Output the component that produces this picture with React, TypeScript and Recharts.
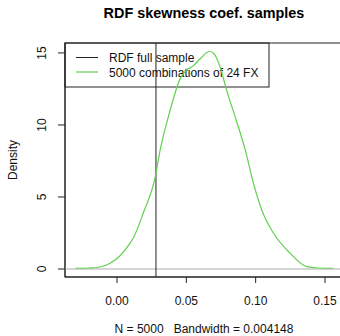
import { ComposedChart, Line, XAxis, YAxis, ReferenceLine } from 'recharts';

const densityX = [
  -0.03, -0.02, -0.013, -0.005, 0.002, 0.008, 0.012, 0.019, 0.0274, 0.031, 0.038, 0.0455, 0.05,
  0.055, 0.06, 0.0666, 0.0695, 0.0743, 0.0791, 0.0851, 0.0924, 0.0983, 0.1044, 0.1128, 0.1248,
  0.1368, 0.145, 0.156,
];
const densityY = [
  0.05, 0.07, 0.12, 0.4, 0.9, 1.6, 2.2, 3.9, 6.3, 8.2, 10.9, 13.2, 13.8, 14.1, 14.6, 15.1, 15.0,
  14.05, 12.4, 10.6, 8.3, 6.0, 4.1, 2.5, 1.1, 0.16, 0.07, 0.05,
];
const fullSample = 0.0281;
const xTicks = [0, 0.05, 0.1, 0.15];
const xTickLabels = ['0.00', '0.05', '0.10', '0.15'];
const yTicks = [0, 5, 10, 15];

const data = densityX.map((x, i) => ({ x, d: densityY[i] }));

const FONT = '"Liberation Sans", Arial, Helvetica, sans-serif';
const GREEN = '#61D04F';

const XTick = (props: any) => {
  const i = xTicks.indexOf(props.payload.value);
  return (
    <text x={props.x} y={305} textAnchor="middle" fontSize={12} fontFamily={FONT} fill="#111">
      {xTickLabels[i] ?? props.payload.value}
    </text>
  );
};

const YTick = (props: any) => (
  <text
    x={46.5}
    y={props.y}
    transform={`rotate(-90 46.5 ${props.y})`}
    textAnchor="middle"
    fontSize={12}
    fontFamily={FONT}
    fill="#111"
  >
    {props.payload.value}
  </text>
);

export default function App() {
  return (
    <div style={{ position: 'absolute', left: 0, top: 0, width: 340, height: 336, overflow: 'hidden', background: '#fff' }}>
      <ComposedChart width={343} height={336} data={data} margin={{ top: 43, right: 0, left: 0, bottom: 0 }}>
        <XAxis
          dataKey="x"
          type="number"
          domain={[-0.0375, 0.163]}
          ticks={xTicks}
          tick={XTick}
          tickSize={6}
          height={59}
          axisLine={{ stroke: '#222' }}
          tickLine={{ stroke: '#222' }}
          allowDataOverflow
        />
        <YAxis
          type="number"
          domain={[-0.556, 15.69]}
          ticks={yTicks}
          tick={YTick}
          tickSize={7}
          width={65}
          axisLine={{ stroke: '#222' }}
          tickLine={{ stroke: '#222' }}
          allowDataOverflow
        />
        <ReferenceLine y={0} stroke="#d6d6d6" strokeWidth={2} />
        <ReferenceLine x={fullSample} stroke="#222" strokeWidth={1} />
        <Line
          dataKey="d"
          type="monotone"
          stroke={GREEN}
          strokeWidth={1.2}
          dot={false}
          isAnimationActive={false}
        />
        <rect x={65} y={43} width={278} height={234} fill="none" stroke="#222" strokeWidth={1} />
        <rect x={65} y={43} width={204} height={44} fill="none" stroke="#222" strokeWidth={1} />
        <line x1={76} x2={98} y1={57.5} y2={57.5} stroke="#222" strokeWidth={1} />
        <line x1={76} x2={98} y1={72} y2={72} stroke={GREEN} strokeWidth={1.2} />
        <text x={109} y={62} fontSize={12} fontFamily={FONT} fill="#111">
          RDF full sample
        </text>
        <text x={109} y={77} fontSize={12} fontFamily={FONT} fill="#111">
          5000 combinations of 24 FX
        </text>
        <text x={204} y={17.5} textAnchor="middle" fontSize={14.4} fontWeight="bold" fontFamily={FONT} fill="#000">
          RDF skewness coef. samples
        </text>
        <text
          x={17}
          y={160}
          transform="rotate(-90 17 160)"
          textAnchor="middle"
          fontSize={12}
          fontFamily={FONT}
          fill="#111"
        >
          Density
        </text>
        <text
          x={204}
          y={333}
          textAnchor="middle"
          fontSize={12}
          fontFamily={FONT}
          fill="#111"
          style={{ whiteSpace: 'pre' }}
        >
          {'N = 5000   Bandwidth = 0.004148'}
        </text>
      </ComposedChart>
    </div>
  );
}
